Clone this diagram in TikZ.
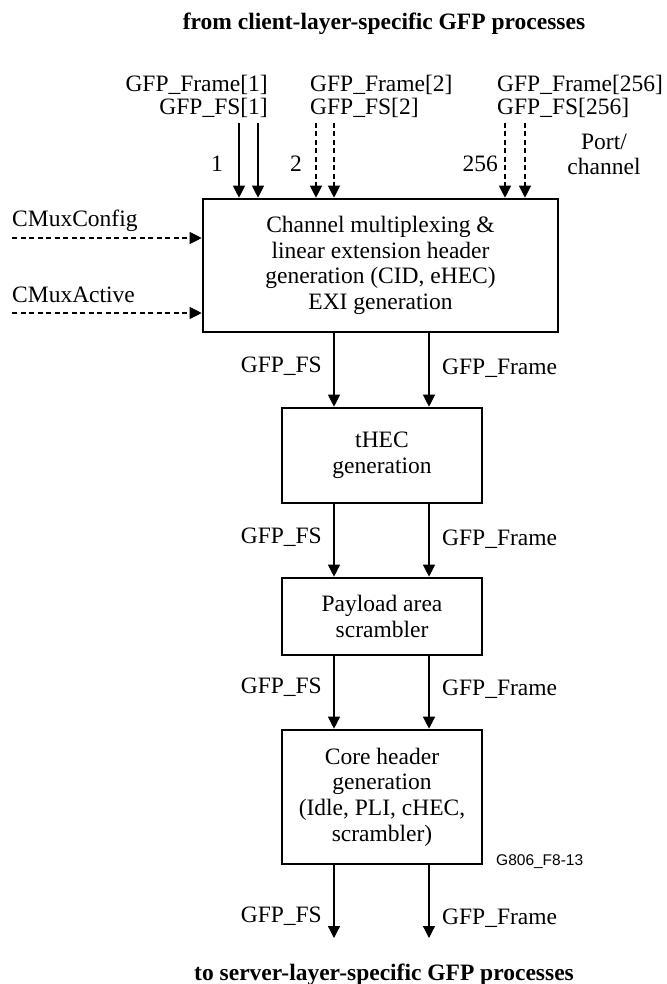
\documentclass[tikz,border=0pt]{standalone}
\usepackage{fontspec}
\setmainfont{Liberation Serif}
\newfontfamily\sansf{Liberation Sans}
\usetikzlibrary{arrows.meta}
\begin{document}
\begin{tikzpicture}[x=1pt,y=-1pt,
  txt/.style={font=\fontsize{23.5}{25.7}\selectfont, inner sep=0pt},
  ttl/.style={font=\fontsize{23.5}{25.7}\selectfont\bfseries, inner sep=0pt},
  blk/.style={draw, line width=2.6pt, inner sep=0pt, align=center,
    font=\fontsize{23.5}{25.7}\selectfont},
  arr/.style={line width=1.2pt, -{Triangle[width=12pt,length=12pt]}},
  darr/.style={arr, dash pattern=on 5pt off 3.5pt}
]
\useasboundingbox (0,0) rectangle (666,984);

% titles
\node[ttl, anchor=base] (ttop) at (384,30) {from client-layer-specific GFP processes};
\node[ttl, anchor=base] (tbot) at (384,980) {to server-layer-specific GFP processes};

% blocks
\node[blk, minimum width=355pt, minimum height=133pt] (main) at (380.5,265.5)
  {Channel multiplexing \&\\ linear extension header\\ generation (CID, eHEC)\\ EXI generation};
\node[blk, minimum width=200pt, minimum height=95pt] (thec) at (382,455.5)
  {tHEC\\ generation};
\node[blk, minimum width=200pt, minimum height=77pt] (pay) at (382,616.5)
  {Payload area\\ scrambler};
\node[blk, minimum width=200pt, minimum height=134pt] (core) at (382,797)
  {Core header\\ generation\\ (Idle, PLI, cHEC,\\ scrambler)};

% top inputs
\node[txt, anchor=base east] (f1) at (268,92) {GFP\_Frame[1]};
\node[txt, anchor=base east] (s1) at (268,115) {GFP\_FS[1]};
\node[txt, anchor=base west] (f2) at (310,92) {GFP\_Frame[2]};
\node[txt, anchor=base west] (s2) at (310,115) {GFP\_FS[2]};
\node[txt, anchor=base west] (f3) at (497,92) {GFP\_Frame[256]};
\node[txt, anchor=base west] (s3) at (497,115) {GFP\_FS[256]};

\coordinate (a1) at (239,123);
\coordinate (b1) at (258,123);
\coordinate (a2) at (316,123);
\coordinate (b2) at (334,123);
\coordinate (a3) at (505,123);
\coordinate (b3) at (525,123);
\draw[arr] (a1) -- (a1 |- main.north);
\draw[arr] (b1) -- (b1 |- main.north);
\draw[darr] (a2) -- (a2 |- main.north);
\draw[darr] (b2) -- (b2 |- main.north);
\draw[darr] (a3) -- (a3 |- main.north);
\draw[darr] (b3) -- (b3 |- main.north);

\node[txt, anchor=base east] (n1) at (223,172) {1};
\node[txt, anchor=base east] (n2) at (302,172) {2};
\node[txt, anchor=base east] (n3) at (498,172) {256};
\node[txt, anchor=base, align=center] (pc) at (604,175) {Port/\\channel};

% control inputs
\node[txt, anchor=base west] (cc) at (12,227) {CMuxConfig};
\node[txt, anchor=base west] (ca) at (12,302) {CMuxActive};
\coordinate (c1) at (12,238);
\coordinate (c2) at (12,313);
\draw[darr] (c1) -- (c1 -| main.west);
\draw[darr] (c2) -- (c2 -| main.west);

% vertical flows
\coordinate (fs) at (334,0);
\coordinate (fr) at (429,0);
\draw[arr] (main.south -| fs) -- (thec.north -| fs);
\draw[arr] (main.south -| fr) -- (thec.north -| fr);
\draw[arr] (thec.south -| fs) -- (pay.north -| fs);
\draw[arr] (thec.south -| fr) -- (pay.north -| fr);
\draw[arr] (pay.south -| fs) -- (core.north -| fs);
\draw[arr] (pay.south -| fr) -- (core.north -| fr);
\coordinate (ofs) at (334,938);
\coordinate (ofr) at (429,938);
\draw[arr] (core.south -| fs) -- (ofs);
\draw[arr] (core.south -| fr) -- (ofr);

\node[txt, anchor=base east] (l1) at (322,372) {GFP\_FS};
\node[txt, anchor=base west] (r1) at (442,374) {GFP\_Frame};
\node[txt, anchor=base east] (l2) at (322,543) {GFP\_FS};
\node[txt, anchor=base west] (r2) at (442,545) {GFP\_Frame};
\node[txt, anchor=base east] (l3) at (322,693) {GFP\_FS};
\node[txt, anchor=base west] (r3) at (442,695) {GFP\_Frame};
\node[txt, anchor=base east] (l4) at (322,922) {GFP\_FS};
\node[txt, anchor=base west] (r4) at (442,924) {GFP\_Frame};

\node[inner sep=0pt, anchor=base west, font=\sansf\fontsize{15.5}{18}\selectfont] (fig) at (496,865) {G806\_F8-13};
\end{tikzpicture}
\end{document}
